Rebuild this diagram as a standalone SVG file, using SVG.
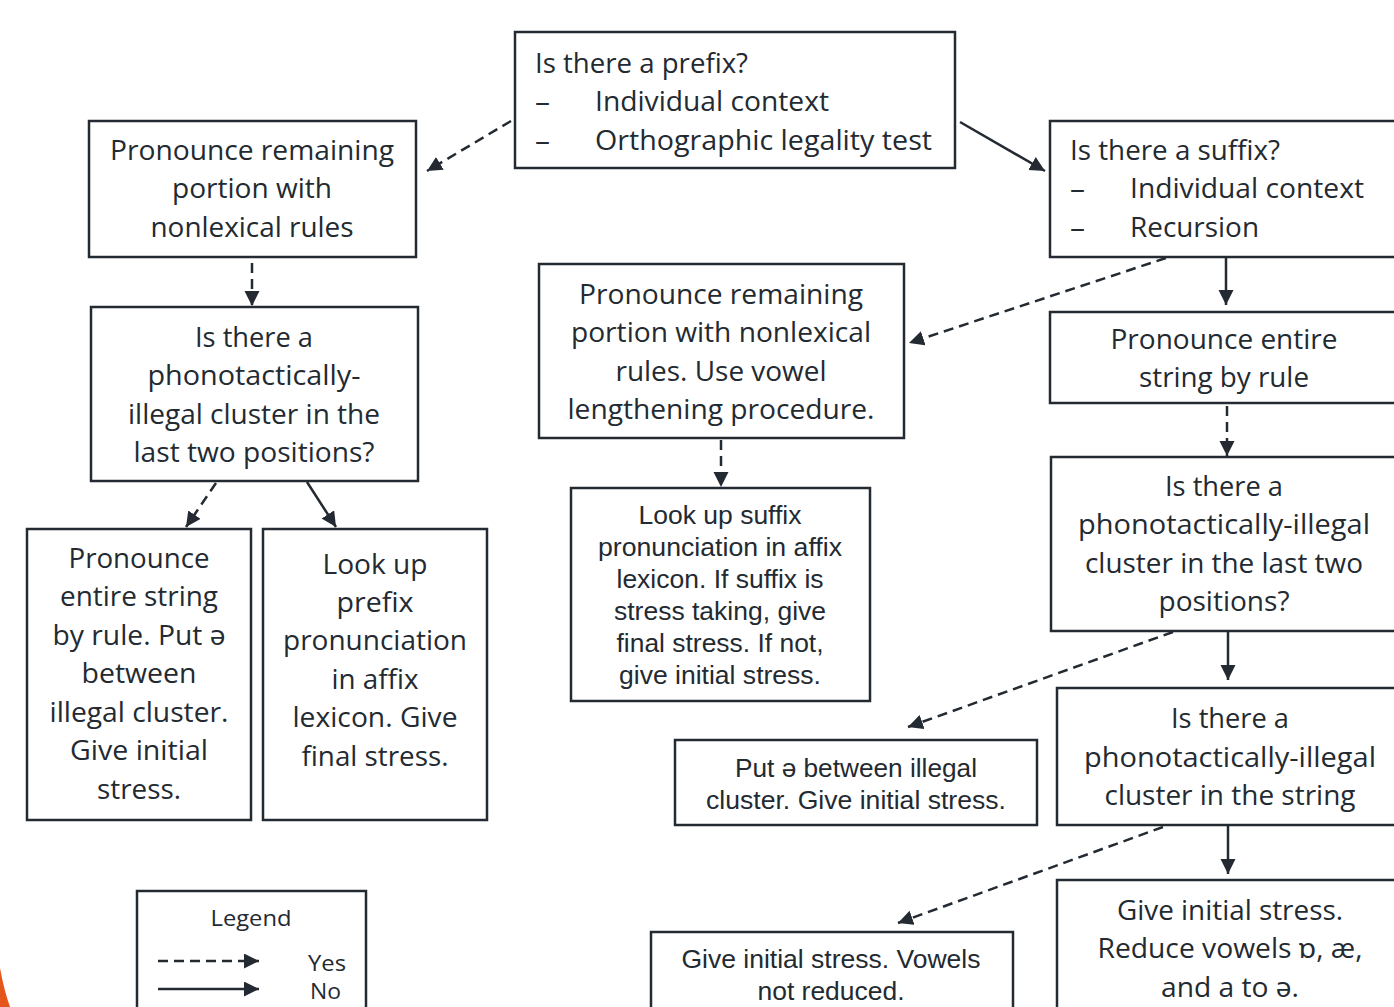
<svg xmlns="http://www.w3.org/2000/svg" width="1394" height="1007" viewBox="0 0 1394 1007">
<defs>
<marker id="ah" markerUnits="userSpaceOnUse" markerWidth="16" markerHeight="16" refX="15" refY="7.5" orient="auto">
<path d="M0,0 L15,7.5 L0,15 Z" fill="#232a31"/>
</marker>
<style>
.box{fill:#fff;stroke:#232a31;stroke-width:2.5}
.t{font-family:"Open Sans","Noto Sans",sans-serif;font-size:27px;fill:#232a31}
.c{text-anchor:middle}
.a{font-family:"Liberation Sans",Arial,sans-serif;font-size:26px;fill:#232a31;text-anchor:middle}
.yes{fill:none;stroke:#232a31;stroke-width:2.5;stroke-dasharray:10 6;marker-end:url(#ah)}
.no{fill:none;stroke:#232a31;stroke-width:2.5;marker-end:url(#ah)}
</style>
</defs>
<rect width="1394" height="1007" fill="#fff"/>
<path d="M0,968 Q4,990 10,1007 L0,1007 Z" fill="#e5561d"/>

<g id="connectors">
<line class="yes" x1="511" y1="121" x2="427" y2="171"/>
<line class="no" x1="960" y1="122" x2="1045" y2="171"/>
<line class="yes" x1="252" y1="263" x2="252" y2="306"/>
<line class="yes" x1="216" y1="483" x2="186" y2="527"/>
<line class="no" x1="307" y1="482" x2="336" y2="527"/>
<line class="yes" x1="1166" y1="258" x2="909" y2="343"/>
<line class="no" x1="1226" y1="258" x2="1226" y2="305"/>
<line class="yes" x1="1227" y1="406" x2="1227" y2="456"/>
<line class="yes" x1="721" y1="440" x2="721" y2="487"/>
<line class="yes" x1="1173" y1="632" x2="908" y2="727"/>
<line class="no" x1="1228" y1="632" x2="1228" y2="680"/>
<line class="yes" x1="1163" y1="827" x2="898" y2="923"/>
<line class="no" x1="1228" y1="826" x2="1228" y2="874"/>
</g>

<g id="prefix">
<rect class="box" x="515" y="32" width="440" height="136"/>
<text class="t" x="535" y="73" textLength="213" lengthAdjust="spacingAndGlyphs">Is there a prefix?</text>
<text class="t" x="535" y="111" textLength="15" lengthAdjust="spacingAndGlyphs">–</text>
<text class="t" x="595" y="111" textLength="234" lengthAdjust="spacingAndGlyphs">Individual context</text>
<text class="t" x="535" y="150" textLength="15" lengthAdjust="spacingAndGlyphs">–</text>
<text class="t" x="595" y="150" textLength="337" lengthAdjust="spacingAndGlyphs">Orthographic legality test</text>
</g>

<g id="remaining-left">
<rect class="box" x="89" y="121" width="327" height="136"/>
<text class="t c" x="252" y="160" textLength="284" lengthAdjust="spacingAndGlyphs">Pronounce remaining</text>
<text class="t c" x="252" y="198" textLength="160" lengthAdjust="spacingAndGlyphs">portion with</text>
<text class="t c" x="252" y="237" textLength="203" lengthAdjust="spacingAndGlyphs">nonlexical rules</text>
</g>

<g id="suffix">
<rect class="box" x="1050" y="121" width="360" height="136"/>
<text class="t" x="1070" y="160" textLength="210" lengthAdjust="spacingAndGlyphs">Is there a suffix?</text>
<text class="t" x="1070" y="198" textLength="15" lengthAdjust="spacingAndGlyphs">–</text>
<text class="t" x="1130" y="198" textLength="234" lengthAdjust="spacingAndGlyphs">Individual context</text>
<text class="t" x="1070" y="237" textLength="15" lengthAdjust="spacingAndGlyphs">–</text>
<text class="t" x="1130" y="237" textLength="129" lengthAdjust="spacingAndGlyphs">Recursion</text>
</g>

<g id="illegal-left">
<rect class="box" x="91" y="307" width="327" height="174"/>
<text class="t c" x="254" y="347" textLength="118" lengthAdjust="spacingAndGlyphs">Is there a</text>
<text class="t c" x="254" y="385" textLength="213" lengthAdjust="spacingAndGlyphs">phonotactically-</text>
<text class="t c" x="254" y="424" textLength="252" lengthAdjust="spacingAndGlyphs">illegal cluster in the</text>
<text class="t c" x="254" y="462" textLength="241" lengthAdjust="spacingAndGlyphs">last two positions?</text>
</g>

<g id="schwa-left">
<rect class="box" x="27" y="529" width="224" height="291"/>
<text class="t c" x="139" y="568" textLength="141" lengthAdjust="spacingAndGlyphs">Pronounce</text>
<text class="t c" x="139" y="606" textLength="158" lengthAdjust="spacingAndGlyphs">entire string</text>
<text class="t c" x="139" y="645" textLength="173" lengthAdjust="spacingAndGlyphs">by rule. Put ə</text>
<text class="t c" x="139" y="683" textLength="115" lengthAdjust="spacingAndGlyphs">between</text>
<text class="t c" x="139" y="722" textLength="179" lengthAdjust="spacingAndGlyphs">illegal cluster.</text>
<text class="t c" x="139" y="760" textLength="138" lengthAdjust="spacingAndGlyphs">Give initial</text>
<text class="t c" x="139" y="799" textLength="84" lengthAdjust="spacingAndGlyphs">stress.</text>
</g>

<g id="prefix-lookup">
<rect class="box" x="263" y="529" width="224" height="291"/>
<text class="t c" x="375" y="574" textLength="105" lengthAdjust="spacingAndGlyphs">Look up</text>
<text class="t c" x="375" y="612" textLength="77" lengthAdjust="spacingAndGlyphs">prefix</text>
<text class="t c" x="375" y="650" textLength="184" lengthAdjust="spacingAndGlyphs">pronunciation</text>
<text class="t c" x="375" y="689" textLength="87" lengthAdjust="spacingAndGlyphs">in affix</text>
<text class="t c" x="375" y="727" textLength="165" lengthAdjust="spacingAndGlyphs">lexicon. Give</text>
<text class="t c" x="375" y="766" textLength="147" lengthAdjust="spacingAndGlyphs">final stress.</text>
</g>

<g id="remaining-mid">
<rect class="box" x="539" y="264" width="365" height="174"/>
<text class="t c" x="721" y="304" textLength="284" lengthAdjust="spacingAndGlyphs">Pronounce remaining</text>
<text class="t c" x="721" y="342" textLength="300" lengthAdjust="spacingAndGlyphs">portion with nonlexical</text>
<text class="t c" x="721" y="381" textLength="211" lengthAdjust="spacingAndGlyphs">rules. Use vowel</text>
<text class="t c" x="721" y="419" textLength="307" lengthAdjust="spacingAndGlyphs">lengthening procedure.</text>
</g>

<g id="entire-right">
<rect class="box" x="1050" y="312" width="360" height="91"/>
<text class="t c" x="1224" y="349" textLength="227" lengthAdjust="spacingAndGlyphs">Pronounce entire</text>
<text class="t c" x="1224" y="387" textLength="170" lengthAdjust="spacingAndGlyphs">string by rule</text>
</g>

<g id="suffix-lookup">
<rect class="box" x="571" y="488" width="299" height="213"/>
<text class="a" x="720" y="524" textLength="163" lengthAdjust="spacingAndGlyphs">Look up suffix</text>
<text class="a" x="720" y="556" textLength="244" lengthAdjust="spacingAndGlyphs">pronunciation in affix</text>
<text class="a" x="720" y="588" textLength="207" lengthAdjust="spacingAndGlyphs">lexicon. If suffix is</text>
<text class="a" x="720" y="620" textLength="212" lengthAdjust="spacingAndGlyphs">stress taking, give</text>
<text class="a" x="720" y="652" textLength="207" lengthAdjust="spacingAndGlyphs">final stress. If not,</text>
<text class="a" x="720" y="684" textLength="202" lengthAdjust="spacingAndGlyphs">give initial stress.</text>
</g>

<g id="illegal-right">
<rect class="box" x="1051" y="457" width="360" height="174"/>
<text class="t c" x="1224" y="496" textLength="118" lengthAdjust="spacingAndGlyphs">Is there a</text>
<text class="t c" x="1224" y="534" textLength="292" lengthAdjust="spacingAndGlyphs">phonotactically-illegal</text>
<text class="t c" x="1224" y="573" textLength="278" lengthAdjust="spacingAndGlyphs">cluster in the last two</text>
<text class="t c" x="1224" y="611" textLength="131" lengthAdjust="spacingAndGlyphs">positions?</text>
</g>

<g id="illegal-string">
<rect class="box" x="1057" y="688" width="360" height="137"/>
<text class="t c" x="1230" y="728" textLength="118" lengthAdjust="spacingAndGlyphs">Is there a</text>
<text class="t c" x="1230" y="767" textLength="292" lengthAdjust="spacingAndGlyphs">phonotactically-illegal</text>
<text class="t c" x="1230" y="805" textLength="251" lengthAdjust="spacingAndGlyphs">cluster in the string</text>
</g>

<g id="schwa-right">
<rect class="box" x="675" y="740" width="362" height="85"/>
<text class="a" x="856" y="777" textLength="242" lengthAdjust="spacingAndGlyphs">Put ə between illegal</text>
<text class="a" x="856" y="809" textLength="300" lengthAdjust="spacingAndGlyphs">cluster. Give initial stress.</text>
</g>

<g id="no-reduce">
<rect class="box" x="651" y="932" width="362" height="100"/>
<text class="a" x="831" y="968" textLength="299" lengthAdjust="spacingAndGlyphs">Give initial stress. Vowels</text>
<text class="a" x="831" y="1000" textLength="147" lengthAdjust="spacingAndGlyphs">not reduced.</text>
</g>

<g id="reduce">
<rect class="box" x="1057" y="880" width="360" height="150"/>
<text class="t c" x="1230" y="920" textLength="226" lengthAdjust="spacingAndGlyphs">Give initial stress.</text>
<text class="t c" x="1230" y="958" textLength="265" lengthAdjust="spacingAndGlyphs">Reduce vowels ɒ, æ,</text>
<text class="t c" x="1230" y="997" textLength="138" lengthAdjust="spacingAndGlyphs">and a to ə.</text>
</g>

<g id="legend">
<rect class="box" x="137" y="891" width="229" height="130"/>
<text class="t c" x="251" y="926" style="font-size:22px" textLength="81" lengthAdjust="spacingAndGlyphs">Legend</text>
<line class="yes" x1="158" y1="961" x2="259" y2="961"/>
<line class="no" x1="158" y1="989" x2="259" y2="989"/>
<text class="t" x="308" y="971" style="font-size:22px" textLength="38" lengthAdjust="spacingAndGlyphs">Yes</text>
<text class="t" x="310" y="999" style="font-size:22px" textLength="31" lengthAdjust="spacingAndGlyphs">No</text>
</g>
</svg>
